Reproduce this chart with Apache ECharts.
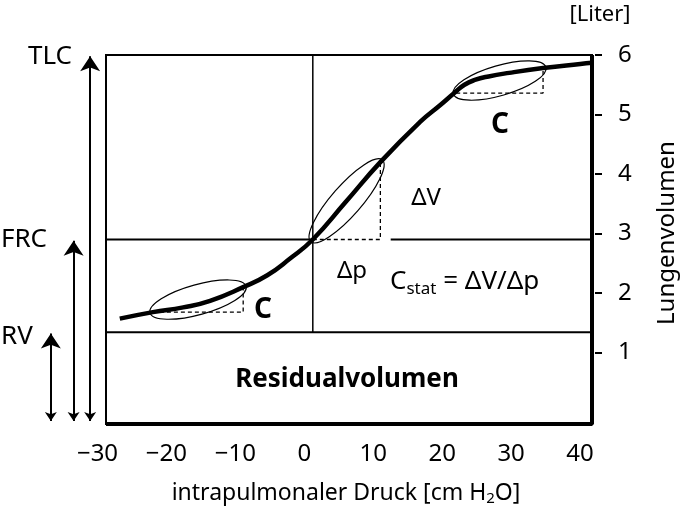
<!DOCTYPE html>
<html>
<head>
<meta charset="utf-8">
<script src="https://cdn.jsdelivr.net/npm/echarts@6/dist/echarts.min.js"></script>
<style>
  html, body { margin: 0; padding: 0; background: #fff; }
  #chart { width: 685px; height: 515px; }
</style>
</head>
<body>
<div id="chart"></div>
<script>
// Ruhedehnungskurve: intrapulmonaler Druck [cm H2O] -> Lungenvolumen [Liter]
const pressure = [-28, -23.2, -18.8, -14.9, -10.1, -6.6, -3.3, 0, 4.7, 9.8, 15.6, 18.5, 20.6, 22, 23.5, 25.5, 28.5, 33.4, 38.8, 40.5]
const volume = [1.57, 1.68, 1.76, 1.87, 2.10, 2.30, 2.58, 2.90, 3.52, 4.20, 4.88, 5.16, 5.37, 5.50, 5.58, 5.64, 5.70, 5.78, 5.85, 5.87]

const xTicks = [-30, -20, -10, 0, 10, 20, 30, 40]
const yTicks = [1, 2, 3, 4, 5, 6]

// Lungenvolumina [Liter]
const levelNames = ['TLC', 'FRC', 'RV']
const levels = [6.0, 2.9, 1.34]

// Compliance-Dreiecke: [p1, v1, p2, v2]
const compliance = [
  [-23.2, 1.68, -10.1, 2.10],
  [0, 2.90, 9.8, 4.20],
  [20.8, 5.36, 33.4, 5.78]
]

const X_MIN = -30, X_MAX = 40.5, Y_MIN = -0.2, Y_MAX = 6
const arrowX = [-32.3, -34.7, -38.0]
const FONT = 'Noto Sans'

const chart = echarts.init(document.getElementById('chart'))

const solid = (pts, width) => ({
  type: 'line', data: pts, showSymbol: false, silent: true, clip: false,
  lineStyle: {color: '#000', width: width}
})

const [tlc, frc, rv] = levels
const mid = compliance[1]

const series = [
  // Horizontale Linien und Nulllinie
  solid([[X_MIN, rv], [X_MAX, rv]], 2),
  solid([[X_MIN, frc], [0, frc]], 2),
  solid([[mid[2] + 1.5, frc], [X_MAX, frc]], 2),
  solid([[0, rv], [0, tlc]], 1.5),
  // Rahmen rechts und unten kraeftiger
  solid([[X_MIN, Y_MIN], [X_MAX, Y_MIN], [X_MAX, Y_MAX]], 4),
  // gestrichelte Dreiecke
  ...compliance.map(c => ({
    type: 'line', showSymbol: false, silent: true,
    data: [[c[0], c[1]], [c[2], c[1]], [c[2], c[3]]],
    lineStyle: {color: '#000', width: 1.3, type: [4, 3]}
  })),
  // Ellipsen um die Messabschnitte
  {
    type: 'custom', silent: true,
    data: compliance,
    renderItem: (params, api) => {
      const p1 = api.coord([api.value(0), api.value(1)])
      const p2 = api.coord([api.value(2), api.value(3)])
      const dx = p2[0] - p1[0], dy = p2[1] - p1[1]
      const half = Math.sqrt(dx * dx + dy * dy) / 2
      return {
        type: 'ellipse',
        x: (p1[0] + p2[0]) / 2,
        y: (p1[1] + p2[1]) / 2,
        rotation: -Math.atan2(dy, dx),
        shape: {cx: 0, cy: 0, rx: half + 3, ry: 15},
        style: {fill: 'none', stroke: '#000', lineWidth: 1.2}
      }
    }
  },
  // Druck-Volumen-Kurve
  {
    type: 'line', smooth: 0.5, showSymbol: false, silent: true,
    data: pressure.map((p, i) => [p, volume[i]]),
    lineStyle: {color: '#000', width: 4.5}
  },
  // Pfeile links (TLC, FRC, RV)
  {
    type: 'lines', coordinateSystem: 'cartesian2d', clip: false, silent: true,
    symbol: ['arrow', 'arrow'], symbolSize: [9, 15],
    data: levels.map((v, i) => ({coords: [[arrowX[i], Y_MIN + 0.05], [arrowX[i], v - 0.02]]})),
    lineStyle: {color: '#000', width: 2, opacity: 1}
  }
]

const txt = (x, y, text, font, extra) => ({
  type: 'text', x: x, y: y, silent: true,
  style: Object.assign({
    text: text, font: font, fill: '#000',
    align: 'center', verticalAlign: 'middle'
  }, extra || {})
})

const option = {
  animation: false,
  grid: {
    show: true, left: 106, right: 93, top: 55, bottom: 91,
    backgroundColor: '#fff', borderColor: '#000', borderWidth: 2
  },
  xAxis: {
    type: 'value', min: X_MIN, max: X_MAX,
    axisLine: {show: false, onZero: false}, axisTick: {show: false}, splitLine: {show: false},
    axisLabel: {
      customValues: xTicks, margin: 18, color: '#000', fontSize: 24, fontFamily: FONT,
      padding: [0, 17, 0, 0],
      formatter: v => v < 0 ? '\u2212' + Math.abs(v) : String(v)
    }
  },
  yAxis: {
    type: 'value', position: 'right', min: Y_MIN, max: Y_MAX, offset: 3,
    axisLine: {show: false, onZero: false}, splitLine: {show: false},
    axisTick: {customValues: yTicks, length: 7, lineStyle: {color: '#000', width: 2}},
    axisLabel: {customValues: yTicks, margin: 23, color: '#000', fontSize: 24, fontFamily: FONT}
  },
  graphic: [
    txt(50, 57, levelNames[0], `26px "${FONT}"`),
    txt(24, 240, levelNames[1], `26px "${FONT}"`),
    txt(17, 337, levelNames[2], `26px "${FONT}"`),
    txt(600, 15, '[Liter]', `22px "${FONT}"`),
    txt(667, 233, 'Lungenvolumen', `24px "${FONT}"`),
    txt(347, 380, 'Residualvolumen', `bold 26px "${FONT}"`),
    txt(500, 125, 'C', `bold 28px "${FONT}"`),
    txt(263, 310, 'C', `bold 28px "${FONT}"`),
    txt(426, 198, '\u0394V', `24px "${FONT}"`),
    txt(352, 271, '\u0394p', `24px "${FONT}"`),
    {
      type: 'text', x: 390, y: 282, silent: true,
      style: {
        text: '{b|C}{s|stat}{b| = \u0394V/\u0394p}', align: 'left', verticalAlign: 'middle',
        rich: {
          b: {fontSize: 26, fontFamily: FONT, fill: '#000'},
          s: {fontSize: 17, fontFamily: FONT, fill: '#000', padding: [14, 0, 0, 0]}
        }
      }
    },
    {
      type: 'text', x: 346, y: 493, silent: true,
      style: {
        text: '{n|intrapulmonaler Druck [cm H}{s|2}{n|O]}', align: 'center', verticalAlign: 'middle',
        rich: {
          n: {fontSize: 23, fontFamily: FONT, fill: '#000'},
          s: {fontSize: 15, fontFamily: FONT, fill: '#000', padding: [12, 0, 0, 0]}
        }
      }
    }
  ],
  series: series
}

// Lungenvolumen-Text senkrecht
option.graphic[4].rotation = Math.PI / 2

chart.setOption(option)
</script>
</body>
</html>
